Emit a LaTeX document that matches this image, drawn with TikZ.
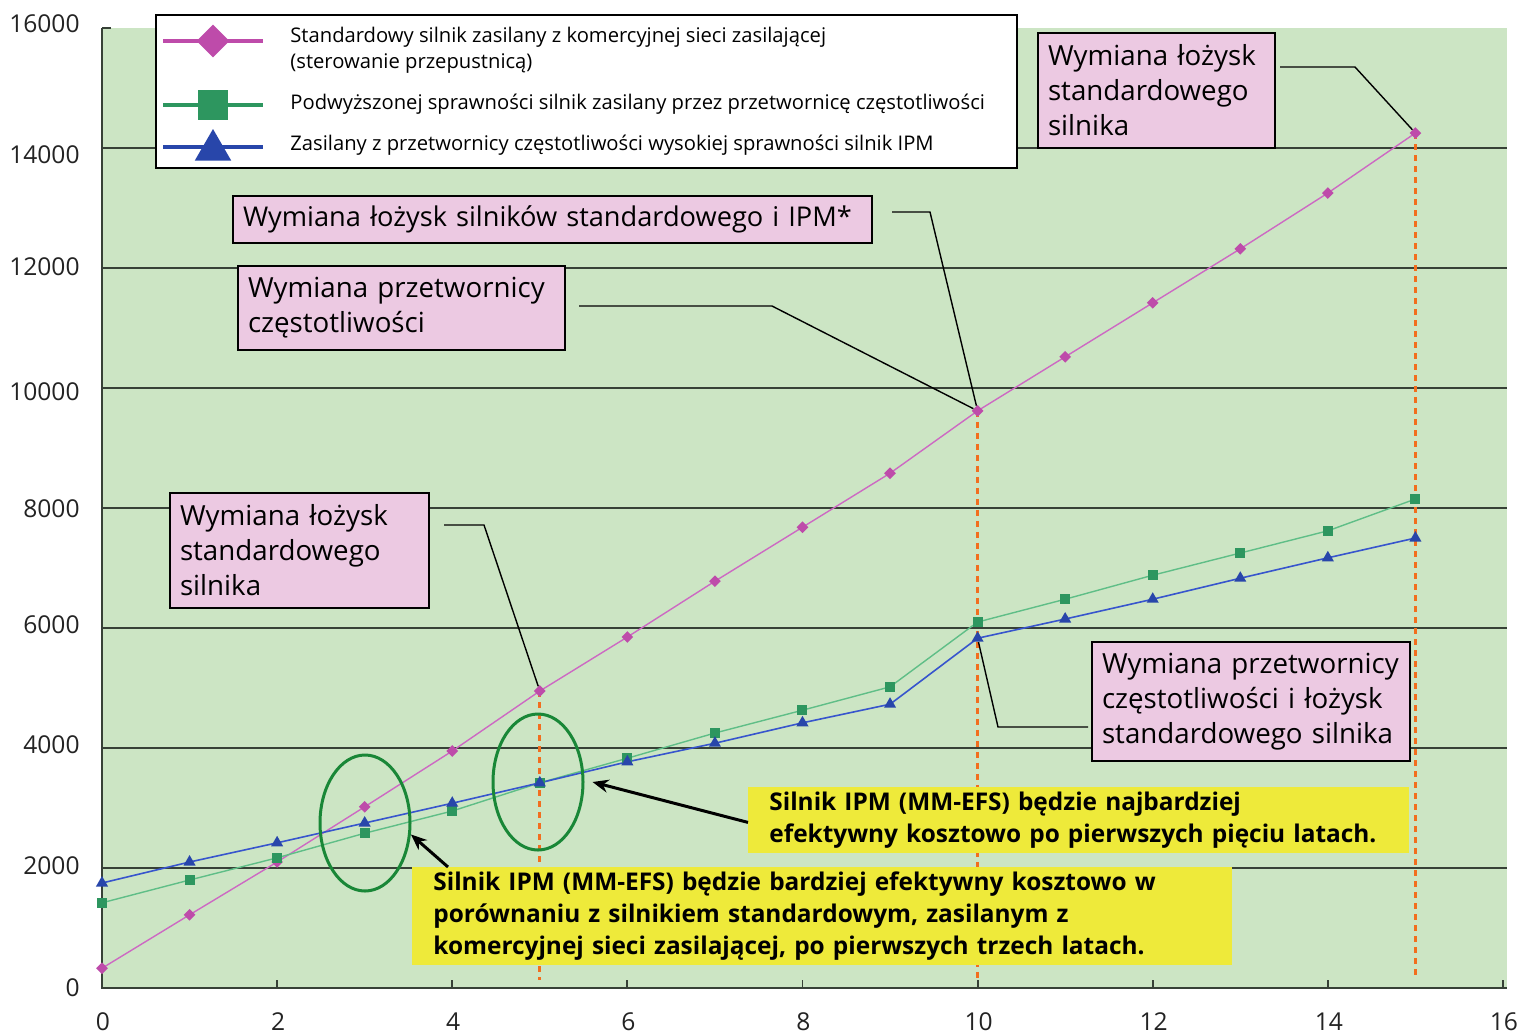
\documentclass[tikz,border=0pt]{standalone}
\usepackage{fontspec}
\setmainfont{Open Sans}
\usetikzlibrary{arrows.meta, positioning, shapes.geometric}

\definecolor{plotbg}{RGB}{204,229,196}
\definecolor{gridgrey}{RGB}{55,65,55}
\definecolor{notepink}{RGB}{236,201,226}
\definecolor{hintyellow}{RGB}{238,234,58}
\definecolor{ringgreen}{RGB}{25,135,55}
\definecolor{changeorange}{RGB}{242,110,30}
\definecolor{magline}{RGB}{205,105,195}
\definecolor{magdark}{RGB}{190,75,170}
\definecolor{grnline}{RGB}{95,190,135}
\definecolor{grndark}{RGB}{45,150,95}
\definecolor{bluline}{RGB}{55,85,205}
\definecolor{bludark}{RGB}{40,70,170}
\definecolor{labelgrey}{RGB}{35,35,35}

\begin{document}
\begin{tikzpicture}[
  x=0.5pt, y=-0.5pt,
  note/.style={draw, line width=1pt, fill=notepink, anchor=north west, align=left,
    inner xsep=5pt, inner ysep=0pt, font=\fontsize{13.85}{17.5}\selectfont},
  hint/.style={fill=hintyellow, anchor=north west, align=left, inner xsep=10.5pt,
    inner ysep=0pt, font=\bfseries\fontsize{12.2}{16}\selectfont},
  lead/.style={line width=0.7pt},
  arrow/.style={-{Stealth[length=8pt, width=6.5pt]}, line width=1.5pt},
  ring/.style={ellipse, draw=ringgreen, line width=1.5pt, minimum width=45pt,
    minimum height=68pt, inner sep=0pt},
  change/.style={draw=changeorange, line width=1.4pt, dash pattern=on 3pt off 2.5pt},
  gridline/.style={draw=gridgrey, line width=0.9pt},
  dmark/.style={diamond, fill=magdark, inner sep=0pt, minimum size=6pt},
  smark/.style={rectangle, fill=grndark, inner sep=0pt, minimum size=5pt},
  tmark/.style={regular polygon, regular polygon sides=3, fill=bludark, inner sep=0pt,
    minimum size=7pt},
  ticklabel/.style={font=\fontsize{12.3}{14}\selectfont, text=labelgrey, inner xsep=0pt},
  legtext/.style={anchor=west, align=left, inner xsep=0pt, font=\fontsize{10.1}{13}\selectfont},
]
\useasboundingbox (0,0) rectangle (1526,1035);

% axis labels
\foreach \v/\py in {16000/24, 14000/155, 12000/267, 10000/392, 8000/509, 6000/625, 4000/745, 2000/866, 0/988}
  \node[ticklabel, anchor=east] (ylab\v) at (80,\py) {\v};
\foreach \x in {0,2,...,16}
  \node[ticklabel] (xlab\x) at (103+87.56*\x,1022) {\x};

\begin{scope}[shift={(102,988)}, x=43.78pt, y=0.03pt]
  \fill[plotbg] (0,0) rectangle (16.05,16000);
  \foreach \v in {2000,4000,...,14000}
    \draw[gridline] (0,\v) -- (16.05,\v);
  \draw[gridline] (0,16000) -- (0.1,16000);
  \draw[gridline] (0,16000) -- (0,0) -- (16.05,0);
  \foreach \x in {2,4,...,16}
    \draw[gridline] (\x,0) -- (\x,130);

  % series
  \foreach \v [count=\i from 0] in {330,1220,2100,3020,3950,4950,5850,6780,7680,8580,9620,10520,11420,12320,13250,14250}
    \coordinate (pm\i) at (\i,\v);
  \foreach \v [count=\i from 0] in {1420,1800,2170,2580,2950,3420,3830,4250,4630,5020,6100,6480,6880,7250,7620,8150}
    \coordinate (pg\i) at (\i,\v);
  \foreach \v [count=\i from 0] in {1750,2100,2420,2750,3080,3420,3770,4080,4420,4730,5830,6150,6480,6830,7170,7500}
    \coordinate (pb\i) at (\i,\v);

  % replacement years
  \draw[change] (pm5) -- (5,130);
  \draw[change] (pm10) -- (10,130);
  \draw[change] (pm15) -- (15,220);

  \draw[magline, line width=0.7pt] (pm0) \foreach \i in {1,...,15} {-- (pm\i)};
  \draw[grnline, line width=0.7pt] (pg0) \foreach \i in {1,...,15} {-- (pg\i)};
  \draw[bluline, line width=0.8pt] (pb0) \foreach \i in {1,...,15} {-- (pb\i)};
  \foreach \i in {0,...,15} {
    \node[dmark] (mag\i) at (pm\i) {};
    \node[smark] (grn\i) at (pg\i) {};
    \node[tmark] (blu\i) at (pb\i) {};
  }
\end{scope}

\node[ring] (ringA) at (365,823) {};
\node[ring] (ringB) at (538,782) {};

% legend
\node[draw, line width=0.9pt, fill=white, anchor=north west, minimum width=430.5pt,
  minimum height=76.5pt, inner sep=0pt] (legend) at (155,14) {};
\draw[magdark, line width=2pt] (163,41) -- (263,41);
\node[diamond, fill=magdark, inner sep=0pt, minimum size=16.5pt] (legmag) at (213,41) {};
\node[legtext] (legmagtext) at (290,50) {Standardowy silnik zasilany z komercyjnej sieci zasilającej\\(sterowanie przepustnicą)};
\draw[grndark, line width=2pt] (163,105) -- (263,105);
\node[rectangle, fill=grndark, inner sep=0pt, minimum size=15pt] (leggrn) at (213,105) {};
\node[legtext] (leggrntext) at (290,104) {Podwyższonej sprawności silnik zasilany przez przetwornicę częstotliwości};
\draw[bludark, line width=2pt] (163,147) -- (263,147);
\node[regular polygon, regular polygon sides=3, fill=bludark, inner sep=0pt,
  minimum size=21pt] (legblu) at (213,150) {};
\node[legtext] (legblutext) at (290,145) {Zasilany z przetwornicy częstotliwości wysokiej sprawności silnik IPM};

% notes
\node[note, text width=108.5pt, minimum height=57.5pt] (lozA) at (1037,32)
  {Wymiana łożysk\\standardowego\\silnika};
\node[note, text width=309.5pt, minimum height=23.5pt, font=\fontsize{13.6}{17.5}\selectfont]
  (lozB) at (232,195) {Wymiana łożysk silników standardowego i IPM*};
\node[note, text width=153.5pt, minimum height=42pt] (conv) at (237,265)
  {Wymiana przetwornicy\\częstotliwości};
\node[note, text width=119.5pt, minimum height=57.5pt] (lozC) at (169,492)
  {Wymiana łożysk\\standardowego\\silnika};
\node[note, text width=149pt, minimum height=59.5pt] (convloz) at (1091,641)
  {Wymiana przetwornicy\\częstotliwości i łożysk\\standardowego silnika};

\draw[lead] ([shift={(4,-23.5)}]lozA.east) -- ++(75,0) -- (mag15);
\draw[lead] ([shift={(19,-7.5)}]lozB.east) -- ++(38,0) -- (mag10);
\draw[lead] ([shift={(13,-2)}]conv.east) -- ++(193,0) -- (mag10);
\draw[lead] ([shift={(14,-25.5)}]lozC.east) -- ++(40,0) -- (mag5);
\draw[lead] ([shift={(-3,25.5)}]convloz.west) -- ++(-90,0) -- (blu10);

% conclusions
\node[hint, text width=309.5pt, minimum height=33pt] (hintA) at (748,787)
  {Silnik IPM (MM-EFS) będzie najbardziej\\efektywny kosztowo po pierwszych pięciu latach.};
\node[hint, text width=389pt, minimum height=49pt] (hintB) at (412,867)
  {Silnik IPM (MM-EFS) będzie bardziej efektywny kosztowo w\\porównaniu z silnikiem standardowym, zasilanym z\\komercyjnej sieci zasilającej, po pierwszych trzech latach.};

\draw[arrow] ([yshift=-1pt]hintA.west) -- ([xshift=4pt]ringB.east);
\draw[arrow] ([xshift=18pt]hintB.north west) -- (ringA.-14);
\end{tikzpicture}
\end{document}
